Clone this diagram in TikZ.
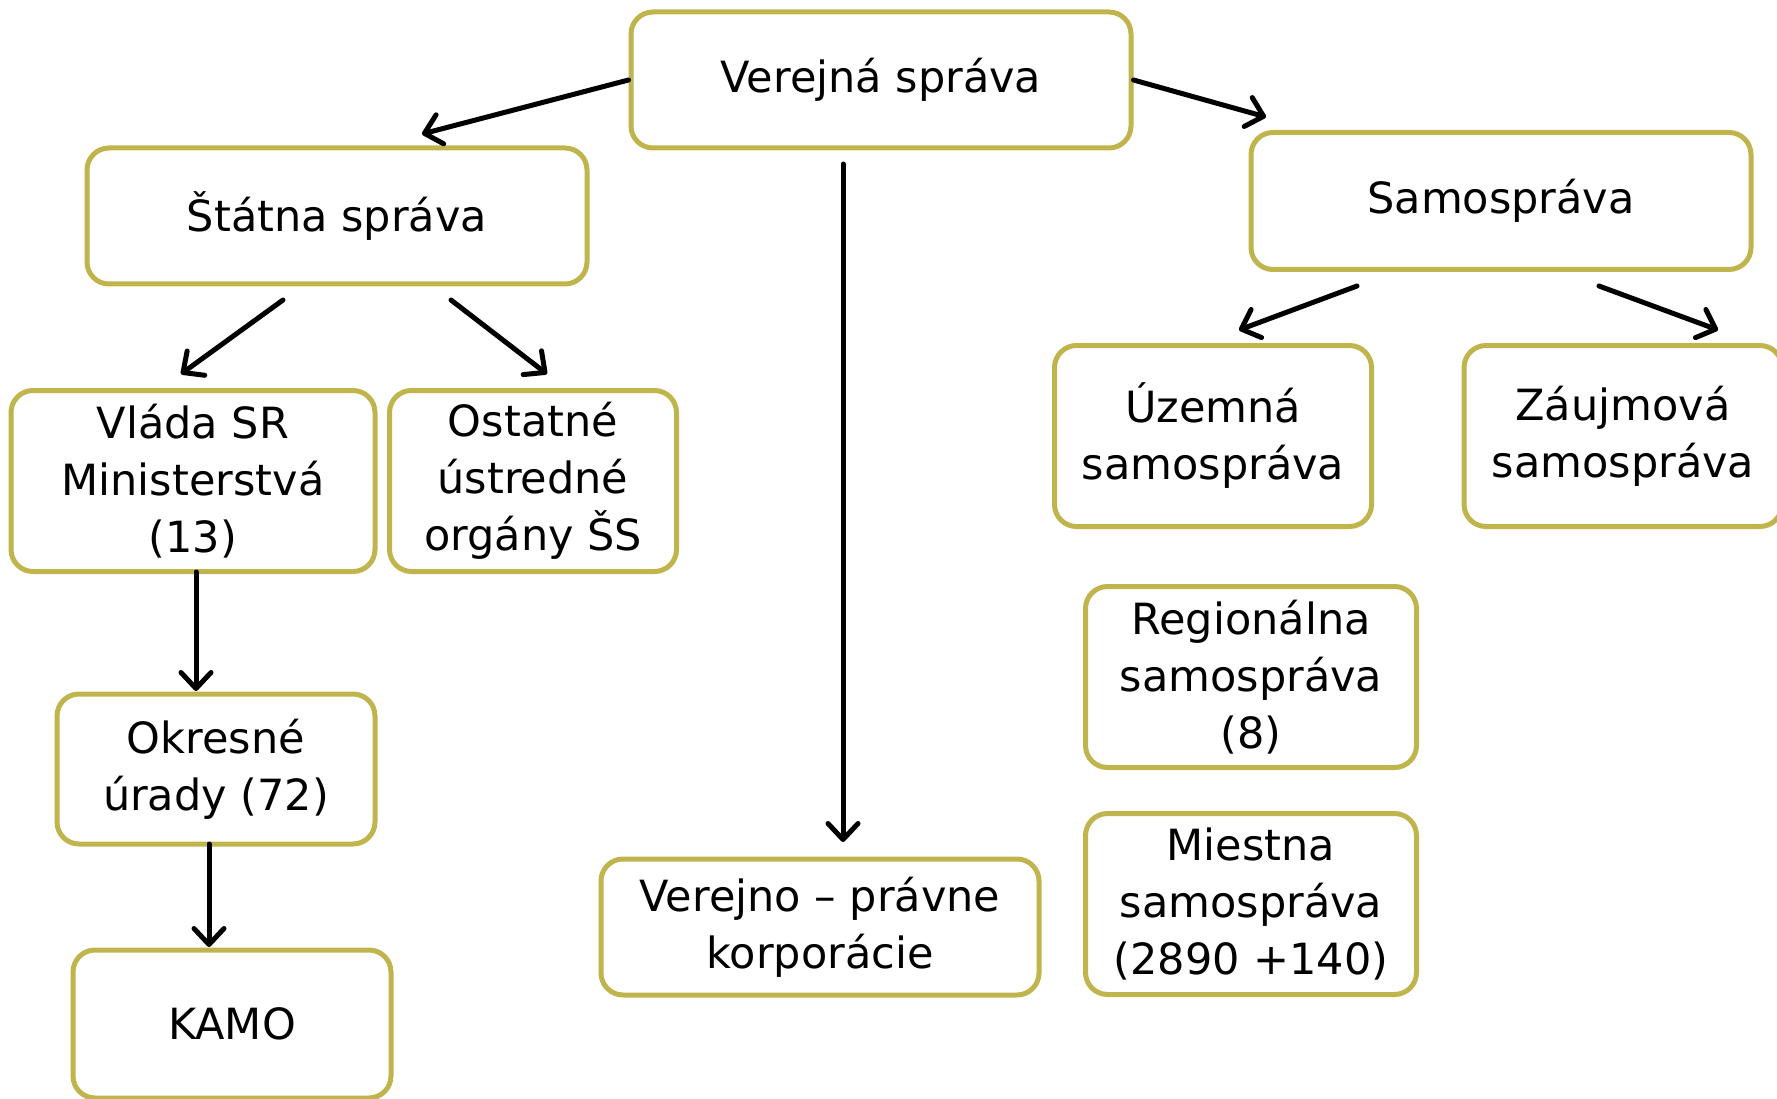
\documentclass[tikz,border=0pt]{standalone}
\usepackage{fontspec}
\setmainfont{DejaVu Sans}
\usetikzlibrary{arrows.meta}
\definecolor{olive}{HTML}{C0B44C}
\tikzset{
  box/.style={draw=olive, line width=5pt, rounded corners=22pt, fill=white,
    align=center, inner sep=0pt, font=\fontsize{43}{57}\selectfont},
  arr/.style={draw=black, line width=5pt, line cap=round,
    -{Straight Barb[length=16pt,width=30pt,line width=5pt,round]}}
}
\begin{document}
\begin{tikzpicture}[x=1pt,y=-1pt]
\useasboundingbox (0,0) rectangle (1777,1099);
\begin{scope}
\clip (0,0) rectangle (1777,1099);
\node[box, minimum width=500pt, minimum height=136pt] (verejna) at (881,80) {Verejná správa};
\node[box, minimum width=500pt, minimum height=136pt] (statna) at (337,216) {Štátna správa};
\node[box, minimum width=500pt, minimum height=137pt] (samo) at (1501,201) {Samospráva};
\node[box, minimum width=364pt, minimum height=181pt] (vlada) at (193,481) {Vláda SR\\Ministerstvá\\(13)};
\node[box, minimum width=287pt, minimum height=181pt] (ostatne) at (533,481) {Ostatné\\ústredné\\orgány ŠS};
\node[box, minimum width=317pt, minimum height=181pt] (uzemna) at (1213,436) {Územná\\samospráva};
\node[box, minimum width=318pt, minimum height=181pt] (zaujmova) at (1623,436) {Záujmová\\samospráva};
\node[box, minimum width=331pt, minimum height=181pt] (regionalna) at (1251,677) {Regionálna\\samospráva\\(8)};
\node[box, minimum width=331pt, minimum height=181pt] (miestna) at (1251,904) {Miestna\\samospráva\\(2890 +140)};
\node[box, minimum width=318pt, minimum height=150pt] (okresne) at (216,769) {Okresné\\úrady (72)};
\node[box, minimum width=318pt, minimum height=148pt] (kamo) at (232,1024) {KAMO};
\node[box, minimum width=438pt, minimum height=136pt] (vpk) at (820,927) {Verejno – právne\\korporácie};
\end{scope}

\coordinate (a1) at (422,134);
\coordinate (a2) at (1266,117);
\coordinate (c1) at (843,164);
\coordinate (c2) at (843,842);
\coordinate (s1a) at (283,300);
\coordinate (s1b) at (181,374);
\coordinate (s2a) at (451,300);
\coordinate (s2b) at (547,374);
\coordinate (m1a) at (1357,286);
\coordinate (m1b) at (1239,330);
\coordinate (m2a) at (1599,286);
\coordinate (m2b) at (1718,330);
\coordinate (v1) at (196,572);
\coordinate (v2) at (196,691);
\coordinate (o1) at (209,844);
\coordinate (o2) at (209,947);

\draw[arr] (verejna.west) -- (a1);
\draw[arr] (verejna.east) -- (a2);
\draw[arr] (c1) -- (c2);
\draw[arr] (s1a) -- (s1b);
\draw[arr] (s2a) -- (s2b);
\draw[arr] (m1a) -- (m1b);
\draw[arr] (m2a) -- (m2b);
\draw[arr] (v1) -- (v2);
\draw[arr] (o1) -- (o2);
\end{tikzpicture}
\end{document}
